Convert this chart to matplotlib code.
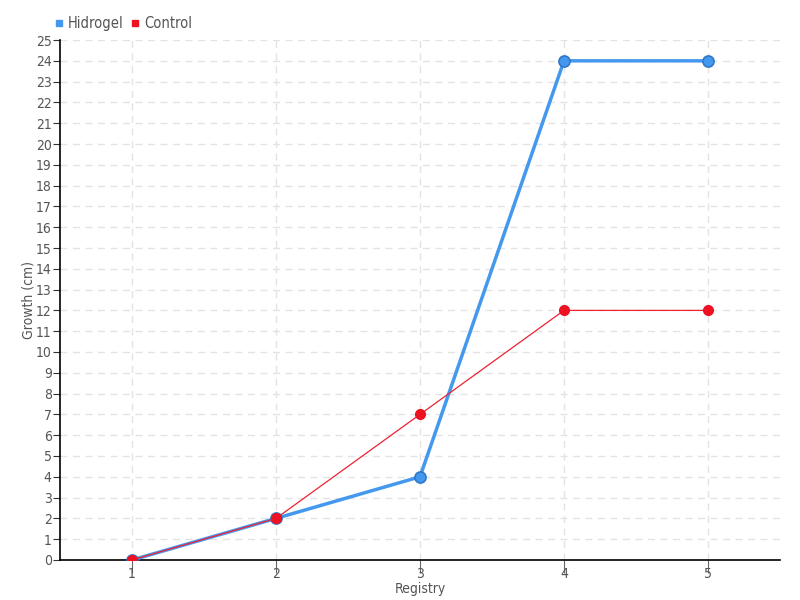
import matplotlib.pyplot as plt
from matplotlib.lines import Line2D

registry = [1, 2, 3, 4, 5]
hidrogel = [0, 2, 4, 24, 24]
control = [0, 2, 7, 12, 12]

plt.rcParams['font.family'] = ['DejaVu Sans']
plt.rcParams['font.stretch'] = 'condensed'
txt = '#555555'

fig = plt.figure(figsize=(8, 6), dpi=100)
ax = fig.add_axes([0.075, 0.0667, 0.9, 0.8666])

ax.plot(registry, hidrogel, color='#4499ee', linewidth=2.5, marker='o',
        markersize=8, markerfacecolor='#4499ee', markeredgecolor='#2f78cc',
        markeredgewidth=1.2, zorder=3)
ax.plot(registry, control, color='#ee2233', linewidth=0.9, marker='o',
        markersize=7, markerfacecolor='#ee1122', markeredgecolor='#ee1122',
        zorder=4)

ax.set_xlim(0.5, 5.5)
ax.set_ylim(0, 25)
ax.set_xticks(registry)
ax.set_yticks(range(0, 26))
ax.grid(True, color='#e3e3e3', linestyle=(0, (5, 4)), linewidth=1)
ax.set_axisbelow(True)
for s in ['top', 'right']:
    ax.spines[s].set_visible(False)
ax.spines['left'].set_linewidth(1.2)
ax.spines['bottom'].set_linewidth(1.2)
ax.tick_params(axis='y', length=5, colors='#333333', labelcolor=txt, labelsize=10, pad=1)
ax.tick_params(axis='x', length=9, colors='#666666', labelcolor=txt, labelsize=10, pad=-4)

ax.set_xlabel('Registry', color=txt, fontsize=10, labelpad=1)
ax.set_ylabel('Growth (cm)', color=txt, fontsize=10, labelpad=0.5)

handles = [Line2D([], [], marker='s', linestyle='', color='#4499ee', markersize=5),
           Line2D([], [], marker='s', linestyle='', color='#ee1122', markersize=5)]
fig.legend(handles, ['Hidrogel', 'Control'], loc='upper left',
           bbox_to_anchor=(0.052, 0.995), ncol=2, frameon=False,
           handlelength=0.6, handletextpad=0.3, columnspacing=0.5,
           labelcolor=txt, fontsize=10.5)

fig.savefig('out.png', dpi=100)
